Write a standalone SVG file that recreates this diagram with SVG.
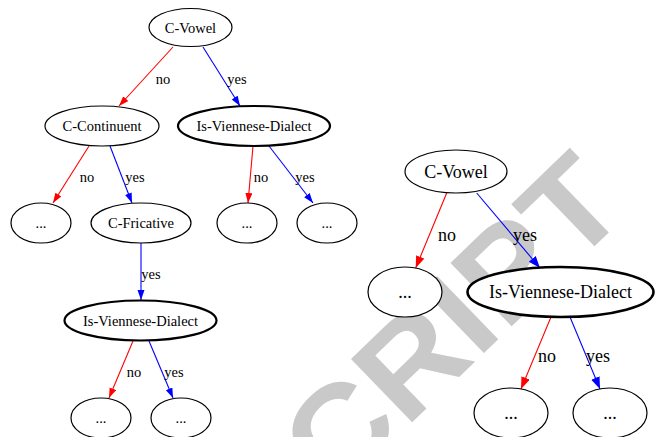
<svg xmlns="http://www.w3.org/2000/svg" width="655" height="437" viewBox="0 0 655 437">
<style>
.n ellipse{fill:#fff;stroke:#000;stroke-width:1.2}
.n ellipse.thick{stroke-width:2.2}
.t{font-family:"Liberation Serif","Times New Roman",serif;fill:#000;text-anchor:middle}
.s{font-size:14.5px}
.b{font-size:18px}
.r{stroke:#ff0000;stroke-width:1.1;fill:none}
.bl{stroke:#0000ff;stroke-width:1.1;fill:none}
.wm{font-family:"Liberation Sans",Arial,sans-serif;font-weight:bold;font-size:128px;fill:#c9c9c9;text-anchor:end}
</style>
<defs>
<marker id="ar" markerUnits="userSpaceOnUse" markerWidth="12" markerHeight="10" refX="10" refY="3.5" orient="auto"><polygon points="0,0 10,3.5 0,7" fill="#ff0000"/></marker>
<marker id="ab" markerUnits="userSpaceOnUse" markerWidth="12" markerHeight="10" refX="10" refY="3.5" orient="auto"><polygon points="0,0 10,3.5 0,7" fill="#0000ff"/></marker>
<marker id="arL" markerUnits="userSpaceOnUse" markerWidth="14" markerHeight="11" refX="12" refY="4.5" orient="auto"><polygon points="0,0 12,4.5 0,9" fill="#ff0000"/></marker>
<marker id="abL" markerUnits="userSpaceOnUse" markerWidth="14" markerHeight="11" refX="12" refY="4.5" orient="auto"><polygon points="0,0 12,4.5 0,9" fill="#0000ff"/></marker>
</defs>
<rect width="655" height="437" fill="#fff"/>
<text class="wm" transform="translate(632,210) rotate(-44) scale(1.08,1)">CRIPT</text>
<g id="connectors">
<line class="r" x1="173" y1="47" x2="119" y2="106" marker-end="url(#ar)"/>
<line class="bl" x1="203" y1="47" x2="240" y2="106" marker-end="url(#ab)"/>
<line class="r" x1="89" y1="146" x2="53" y2="203" marker-end="url(#ar)"/>
<line class="bl" x1="110" y1="146" x2="132" y2="203" marker-end="url(#ab)"/>
<line class="r" x1="253" y1="146" x2="248" y2="203" marker-end="url(#ar)"/>
<line class="bl" x1="269" y1="146" x2="313" y2="203" marker-end="url(#ab)"/>
<line class="bl" x1="141" y1="243" x2="141" y2="300" marker-end="url(#ab)"/>
<line class="r" x1="133" y1="341" x2="109" y2="398" marker-end="url(#ar)"/>
<line class="bl" x1="149" y1="341" x2="173" y2="398" marker-end="url(#ab)"/>
<line class="r" x1="446.7" y1="193" x2="415.7" y2="268" marker-end="url(#arL)"/>
<line class="bl" x1="476.7" y1="193" x2="540" y2="268" marker-end="url(#abL)"/>
<line class="r" x1="551" y1="317" x2="521" y2="389" marker-end="url(#arL)"/>
<line class="bl" x1="570" y1="317" x2="600" y2="389" marker-end="url(#abL)"/>
<g class="t s">
<text x="163" y="84">no</text>
<text x="237" y="84">yes</text>
<text x="87" y="182">no</text>
<text x="135" y="182">yes</text>
<text x="261" y="182">no</text>
<text x="305" y="182">yes</text>
<text x="151" y="279">yes</text>
<text x="134" y="377">no</text>
<text x="174" y="377">yes</text>
</g>
<g class="t b">
<text x="447" y="241">no</text>
<text x="525" y="241">yes</text>
<text x="547" y="362">no</text>
<text x="598" y="362">yes</text>
</g>
</g>
<g id="l_cvowel" class="n"><ellipse cx="190.5" cy="27.5" rx="41.5" ry="19"/><text class="t s" x="190.5" y="32.5">C-Vowel</text></g>
<g id="l_ccont" class="n"><ellipse cx="102" cy="126" rx="57" ry="20"/><text class="t s" x="102" y="131">C-Continuent</text></g>
<g id="l_ivd1" class="n"><ellipse class="thick" cx="254" cy="126" rx="76" ry="20"/><text class="t s" x="254" y="131">Is-Viennese-Dialect</text></g>
<g id="l_dots1" class="n"><ellipse cx="41" cy="223" rx="30" ry="20"/><text class="t s" x="41" y="228">...</text></g>
<g id="l_cfric" class="n"><ellipse cx="141" cy="223" rx="50" ry="20"/><text class="t s" x="141" y="228">C-Fricative</text></g>
<g id="l_dots2" class="n"><ellipse cx="247" cy="223" rx="30" ry="20"/><text class="t s" x="247" y="228">...</text></g>
<g id="l_dots3" class="n"><ellipse cx="327" cy="223" rx="30" ry="20"/><text class="t s" x="327" y="228">...</text></g>
<g id="l_ivd2" class="n"><ellipse class="thick" cx="140.5" cy="320.5" rx="76" ry="20"/><text class="t s" x="140.5" y="325.5">Is-Viennese-Dialect</text></g>
<g id="l_dots4" class="n"><ellipse cx="101" cy="418" rx="30" ry="20"/><text class="t s" x="101" y="423">...</text></g>
<g id="l_dots5" class="n"><ellipse cx="181" cy="418" rx="30" ry="20"/><text class="t s" x="181" y="423">...</text></g>
<g id="r_cvowel" class="n"><ellipse cx="456" cy="171.5" rx="51" ry="21.5"/><text class="t b" x="456" y="178">C-Vowel</text></g>
<g id="r_dots1" class="n"><ellipse cx="405" cy="292" rx="37" ry="25"/><text class="t b" x="405" y="298">...</text></g>
<g id="r_ivd" class="n"><ellipse class="thick" cx="560.5" cy="292" rx="93" ry="25" style="stroke-width:2.6"/><text class="t b" x="560.5" y="298">Is-Viennese-Dialect</text></g>
<g id="r_dots2" class="n"><ellipse cx="511" cy="413" rx="37" ry="25"/><text class="t b" x="511" y="419">...</text></g>
<g id="r_dots3" class="n"><ellipse cx="610" cy="413" rx="37" ry="25"/><text class="t b" x="610" y="419">...</text></g>
</svg>
